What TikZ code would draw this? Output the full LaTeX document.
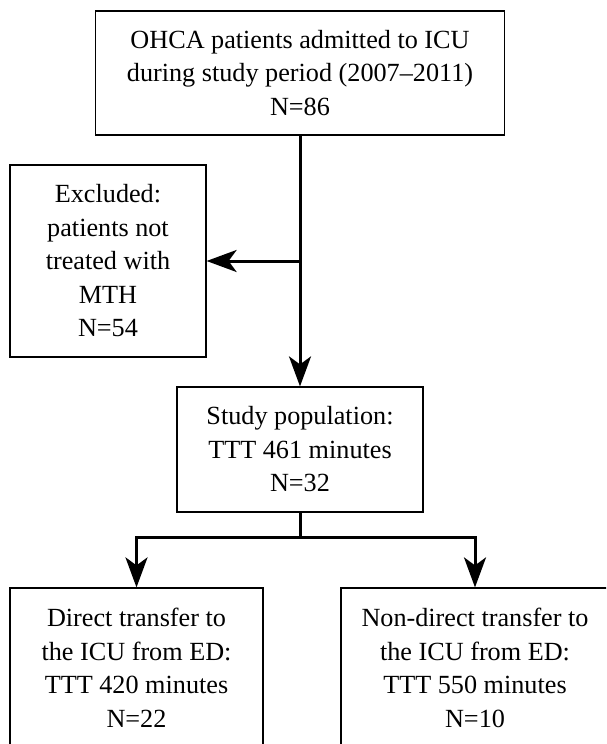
\documentclass[tikz,border=0pt]{standalone}
\usepackage{fontspec}
\setmainfont{Liberation Serif}
\usetikzlibrary{arrows.meta}

\begin{document}
\begin{tikzpicture}[x=1pt,y=1pt,
	box/.style={draw, line width=1.2pt, inner sep=0pt, align=center,
		font=\fontsize{26.2}{33.5}\selectfont},
	flow/.style={line width=3pt, -{Stealth[length=30pt,width=22pt,inset=8pt]}}]
	\useasboundingbox (0,0) rectangle (606,-744);
	\clip (0,0) rectangle (606,-744);

	\node[box, minimum width=409pt, minimum height=124pt] (ohca) at (300,-73)
		{OHCA patients admitted to ICU\\during study period (2007–2011)\\N=86};
	\node[box, minimum width=196pt, minimum height=192pt] (excluded) at (108,-261)
		{Excluded:\\patients not\\treated with\\MTH\\N=54};
	\node[box, minimum width=246pt, minimum height=125pt] (study) at (300,-449.5)
		{Study population:\\TTT 461 minutes\\N=32};
	\node[box, minimum width=253pt, minimum height=160pt] (direct) at (136.5,-668)
		{Direct transfer to\\the ICU from ED:\\TTT 420 minutes\\N=22};
	\node[box, minimum width=268pt, minimum height=160pt] (nondirect) at (475,-668)
		{Non-direct transfer to\\the ICU from ED:\\TTT 550 minutes\\N=10};

	% Verbindungen
	\draw[flow] (ohca.south) -- (study.north);
	\draw[flow] (ohca.south |- excluded.east) -- (excluded.east);

	\coordinate (split) at (300,-537);
	\draw[line width=3pt] (study.south) -- (split);
	\draw[flow] (split) -| (direct.north);
	\draw[flow] (split) -| (nondirect.north);
\end{tikzpicture}
\end{document}
